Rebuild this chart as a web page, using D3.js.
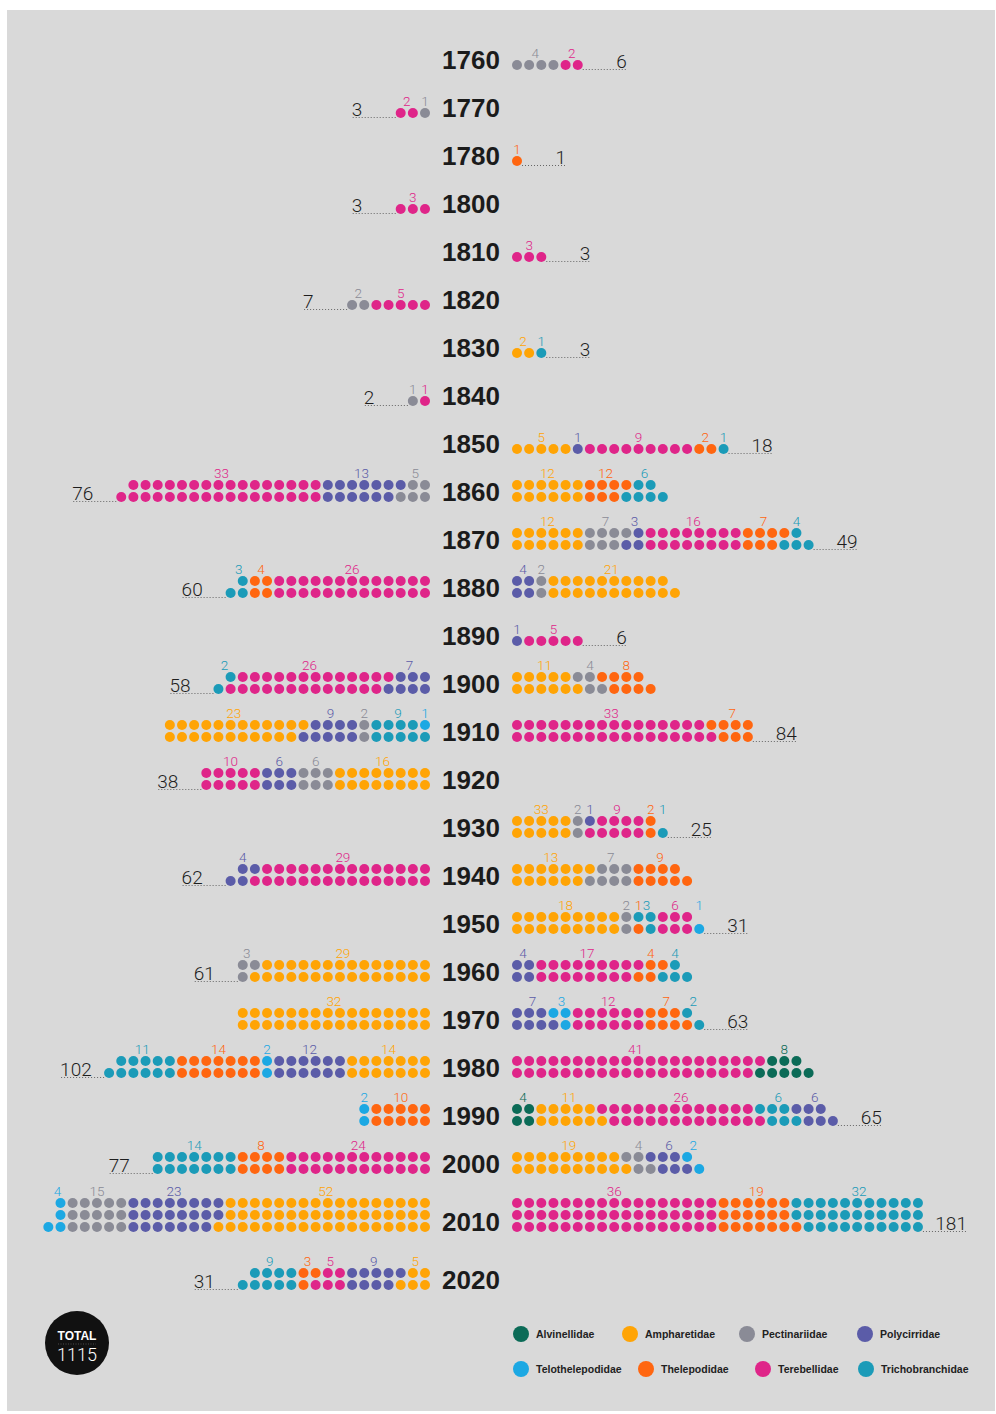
<!DOCTYPE html>
<html><head><meta charset="utf-8">
<script src="https://cdn.jsdelivr.net/npm/d3@7"></script>
<style>body{margin:0;background:#fff}</style>
</head><body><svg id="c" width="996" height="1414"></svg>
<script>
// ---------- DATA ----------
const families = ["Alvinellidae","Ampharetidae","Pectinariidae","Polycirridae","Telothelepodidae","Thelepodidae","Terebellidae","Trichobranchidae"];
const codes = ["V","A","P","Y","L","H","T","R"];
const colors = ["#0b6b57","#ffa405","#8a8b96","#5b5ca8","#1ca8e3","#ff6610","#df2589","#1b9bb8"];

const years = [1760,1770,1780,1800,1810,1820,1830,1840,1850,1860,1870,1880,1890,1900,1910,1920,1930,1940,1950,1960,1970,1980,1990,2000,2010,2020];
const totals = [6,3,1,3,3,7,3,2,18,76,49,60,6,58,84,38,25,62,31,61,63,102,65,77,181,31];
const totalSide = ["R","L","R","L","R","L","R","L","R","L","R","L","R","L","R","L","R","L","R","L","R","L","R","L","R","L"];

// dot rows (top -> bottom), runs listed from the year label outward
const leftRows = [
 [], ["P1 T2"], [], ["T3"], [], ["T5 P2"], [], ["T1 P1"], [],
 ["P2 Y7 T16","P3 Y6 T17"], [], ["T13 H2 R1","T13 H2 R2"], [],
 ["Y3 T13 R1","Y4 T13 R1"], ["L1 R4 P1 Y4 A12","R5 P1 Y5 A11"],
 ["A8 P3 Y3 T5","A8 P3 Y3 T5"], [], ["T14 Y2","T15 Y2"], [],
 ["A14 P2","A15 P1"], ["A16","A16"], ["A7 Y6 L1 H7 R5","A7 Y6 L1 H7 R6"],
 ["H5 L1","H5 L1"], ["T12 H4 R7","T12 H4 R7"],
 ["A17 Y8 P5 L1","A17 Y8 P5 L1","A18 Y7 P5 L2"],
 ["A2 Y5 T2 H2 R4","A3 Y4 T3 H1 R5"]
];
const rightRows = [
 ["P4 T2"], [], ["H1"], [], ["T3"], [], ["A2 R1"], [], ["A5 Y1 T9 H2 R1"],
 ["A6 H4 R2","A6 H3 R4"], ["A6 P4 Y1 T8 H4 R1","A6 P3 Y2 T8 H3 R3"],
 ["Y2 P1 A10","Y2 P1 A11"], ["Y1 T5"], ["A5 P2 H4","A6 P2 H4"],
 ["T16 H4","T17 H3"], [], ["A5 P1 Y1 T4 H1","A5 P1 T5 H1 R1"],
 ["A7 P3 H4","A6 P4 H5"], ["A9 P1 R2 T3","A9 P1 H1 R1 T3 L1"],
 ["Y2 T9 H2 R1","Y2 T8 H2 R3"], ["Y3 L2 T6 H3 R1","Y4 L1 T6 H4 R1"],
 ["T21 V3","T20 V5"], ["V2 A5 T13 R3 Y3","V2 A6 T13 R3 Y3"],
 ["A9 P2 Y3 L1","A10 P2 Y3 L1"], ["T17 H6 R11","T17 H6 R11","T17 H7 R10"], []
];
const leftLabels = [
 "","T:2 P:1","","T:3","","P:2 T:5","","P:1 T:1","",
 "T:33 Y:13 P:5","","R:3 H:4 T:26","","R:2 T:26 Y:7",
 "A:23 Y:9 P:2 R:9 L:1","T:10 Y:6 P:6 A:16","","Y:4 T:29","","P:3 A:29","A:32",
 "R:11 H:14 L:2 Y:12 A:14","L:2 H:10","R:14 H:8 T:24","L:4 P:15 Y:23 A:52","R:9 H:3 T:5 Y:9 A:5"
];
const rightLabels = [
 "P:4 T:2","","H:1","","T:3","","A:2 R:1","","A:5 Y:1 T:9 H:2 R:1",
 "A:12 H:12 R:6","A:12 P:7 Y:3 T:16 H:7 R:4","Y:4 P:2 A:21","Y:1 T:5","A:11 P:4 H:8",
 "T:33 H:7","","A:33 P:2 Y:1 T:9 H:2 R:1","A:13 P:7 H:9","A:18 P:2 H:1 R:3 T:6 L:1",
 "Y:4 T:17 H:4 R:4","Y:7 L:3 T:12 H:7 R:2","T:41 V:8","V:4 A:11 T:26 R:6 Y:6","A:19 P:4 Y:6 L:2",
 "T:36 H:19 R:32",""
];
const grandTotal = 1115;

// ---------- DRAW ----------
const svg = d3.select("#c");
svg.append("rect").attr("x",7).attr("y",10).attr("width",988).attr("height",1401).attr("fill","#d9d9d9");

const color = d3.scaleOrdinal().domain(codes).range(colors);
const colX = d3.scaleLinear().domain([0,1]).range([0,12.15]);
const CX = 471, R0 = 517, L0 = 425;
const lightFont = "Roboto, 'Open Sans', sans-serif";

const parseRuns = s => s ? s.split(" ").map(t => ({code:t[0], n:+t.slice(1)})) : [];
const parseLabels = s => s ? s.split(" ").map(t => { const p = t.split(":"); return {code:p[0], text:p[1]}; }) : [];

const nRows = years.map((y,i) => Math.max(leftRows[i].length, rightRows[i].length));
const yc = [];
years.forEach((y,i) => {
  if (i === 0) yc.push(60);
  else yc.push(yc[i-1] + 48 + 10*(Math.max(0,nRows[i-1]-2) + Math.max(0,nRows[i]-2)));
});

// year labels
svg.append("g").selectAll("text").data(years).join("text")
  .attr("x", CX).attr("y", (d,i) => yc[i] + 9)
  .attr("text-anchor","middle")
  .attr("font-family","'Liberation Sans', Arial, sans-serif")
  .attr("font-weight","bold").attr("font-size",26).attr("fill","#1b1b1b")
  .text(d => d);

function drawSide(i, side) {
  const rows = (side === "L" ? leftRows : rightRows)[i];
  if (!rows.length) return;
  const n = rows.length;
  const dir = side === "L" ? -1 : 1, x0 = side === "L" ? L0 : R0;
  const dots = [];
  rows.forEach((s, r) => {
    let c = 0;
    parseRuns(s).forEach(run => { for (let k = 0; k < run.n; k++) { dots.push({code:run.code, col:c, row:r}); c++; } });
  });
  const rowY = r => yc[i] + 5 - (n - 1 - r) * 12;
  const dx = d => x0 + dir * colX(d.col);
  const g = svg.append("g");
  g.selectAll("circle").data(dots).join("circle")
    .attr("cx", dx).attr("cy", d => rowY(d.row)).attr("r", 5)
    .attr("fill", d => color(d.code));

  const labs = parseLabels((side === "L" ? leftLabels : rightLabels)[i]);
  g.selectAll("text.lab").data(labs).join("text").attr("class","lab")
    .attr("x", l => d3.mean(dots.filter(d => d.code === l.code), dx))
    .attr("y", rowY(0) - 7)
    .attr("text-anchor","middle")
    .attr("font-family", lightFont).attr("font-weight",300).attr("font-size",13.5)
    .attr("fill", l => color(l.code))
    .text(l => l.text);

  if (totalSide[i] === side) {
    const maxCol = d3.max(dots, d => d.col);
    const xe = x0 + dir * colX(maxCol);
    const ly = rowY(n - 1) + 4.5;
    g.append("line").attr("x1", xe + dir*5).attr("x2", xe + dir*50)
      .attr("y1", ly).attr("y2", ly)
      .attr("stroke","#666").attr("stroke-width",1).attr("stroke-dasharray","1,2");
    g.append("text").attr("x", xe + dir*49).attr("y", ly - 2)
      .attr("text-anchor", side === "L" ? "start" : "end")
      .attr("font-family", lightFont).attr("font-weight",300).attr("font-size",19)
      .attr("fill","#1e1e1e").text(totals[i]);
  }
}
years.forEach((y,i) => { drawSide(i, "L"); drawSide(i, "R"); });

// total badge
const badge = svg.append("g");
badge.append("circle").attr("cx",77).attr("cy",1343).attr("r",32).attr("fill","#111");
badge.append("text").attr("x",77).attr("y",1340).attr("text-anchor","middle")
  .attr("font-family","'Liberation Sans', Arial, sans-serif").attr("font-weight","bold")
  .attr("font-size",12).attr("fill","#fff").text("TOTAL");
badge.append("line").attr("x1",58).attr("x2",96).attr("y1",1344).attr("y2",1344)
  .attr("stroke","#777").attr("stroke-width",0.6).attr("stroke-dasharray","1,1.5");
badge.append("text").attr("x",77).attr("y",1361).attr("text-anchor","middle")
  .attr("font-family", lightFont).attr("font-weight",300)
  .attr("font-size",18).attr("fill","#fff").text(grandTotal);

// legend
const legX = [[521,630,747,865],[521,646,763,866]];
const legY = [1334,1369];
const leg = svg.append("g");
families.forEach((f,k) => {
  const r = Math.floor(k/4), c = k % 4;
  leg.append("circle").attr("cx",legX[r][c]).attr("cy",legY[r]).attr("r",8).attr("fill",colors[k]);
  leg.append("text").attr("x",legX[r][c]+15).attr("y",legY[r]+3.5)
    .attr("font-family","'Liberation Sans', Arial, sans-serif").attr("font-weight","bold")
    .attr("font-size",10.5).attr("fill","#222").text(f);
});
</script></body></html>
